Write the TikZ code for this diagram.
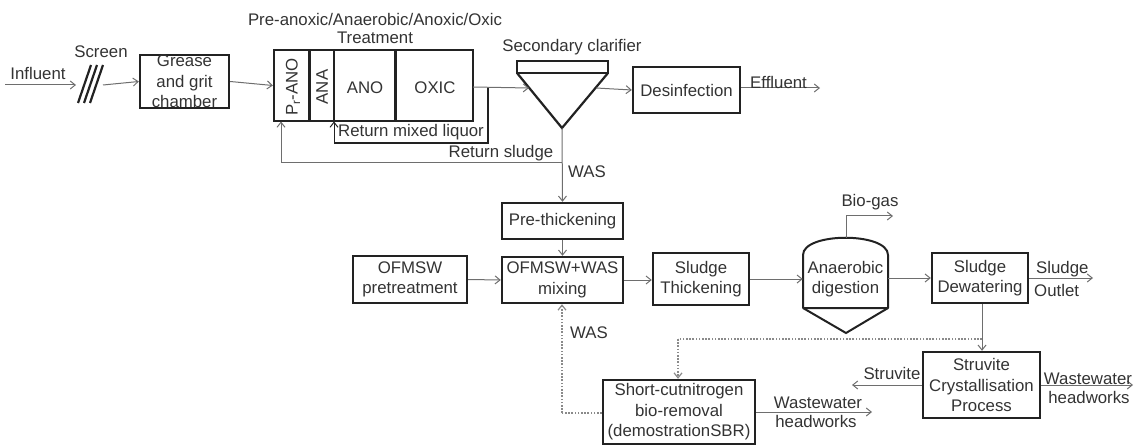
\documentclass[tikz,border=0pt]{standalone}
\usepackage{fontspec}
\setmainfont{Liberation Sans}
\usetikzlibrary{arrows.meta}
\definecolor{inkc}{HTML}{222222}
\definecolor{linec}{HTML}{6E6E6E}
\definecolor{dotc}{HTML}{8A8A8A}
\definecolor{textc}{HTML}{333333}
\begin{document}
\begin{tikzpicture}[x=1pt,y=-1pt,
  font=\fontsize{16.8}{20.5}\selectfont,
  every node/.style={text=textc},
  unit/.style={draw=inkc,line width=2.4pt,inner sep=0pt,align=center},
  lbl/.style={inner sep=0pt,align=center},
  flow/.style={draw=linec,line width=1pt,-{Straight Barb[length=5pt,width=8pt]}},
  plain/.style={draw=linec,line width=1pt},
  dotflow/.style={draw=dotc,line width=1.2pt,dash pattern=on 1.6pt off 1.6pt,-{Straight Barb[length=5pt,width=8pt]}},
  dotline/.style={draw=dotc,line width=1.2pt,dash pattern=on 1.6pt off 1.6pt},
  heavy/.style={draw=inkc,line width=1.6pt}]
\useasboundingbox (0,0) rectangle (1134,446);

% ---------- headworks ----------
\coordinate (inlet) at (5,85);
\coordinate (scrin) at (76,85);
\coordinate (scrout) at (103,85);
\node[lbl] (influent) at (38,73) {Influent};
\node[lbl] (screenlbl) at (101,52) {Screen};
\foreach \d in {0,6,12}
  \draw[draw=inkc,line width=2.2pt] (78+\d,103) -- (91+\d,65);
\node[unit,minimum width=89pt,minimum height=53pt] (grease) at (184.5,81.5) {Grease\\and grit\\chamber};
\draw[flow] (inlet) -- (scrin);
\draw[flow] (scrout) -- (grease.west);

% ---------- biological treatment ----------
\node[lbl] (treattitle) at (375,19) {Pre-anoxic/Anaerobic/Anoxic/Oxic};
\node[lbl] (treatsub) at (375,38) {Treatment};
\node[draw=inkc,line width=2.2pt,minimum width=199pt,minimum height=71pt,inner sep=0pt] (treat) at (373.5,85.5) {};
\draw[draw=inkc,line width=3pt] (309,50) -- (309,121);
\draw[draw=inkc,line width=1.4pt] (334,50) -- (334,121);
\draw[draw=inkc,line width=3pt] (395,50) -- (395,121);
\node[lbl,rotate=90] (pano) at (293,87) {P\textsubscript{r}-ANO};
\node[lbl,rotate=90] (ana) at (322,87) {ANA};
\node[lbl] (ano) at (365,88) {ANO};
\node[lbl] (oxic) at (435,88) {OXIC};
\draw[flow] (grease.east) -- (treat.west);

% internal recycle
\coordinate (treatout) at (473,87);
\coordinate (mlr1) at (488,87);
\coordinate (mlr2) at (488,143);
\coordinate (mlr3) at (334,143);
\coordinate (mlrin) at (334,121.5);
\draw[heavy] (mlr1) -- (mlr2) -- (mlr3);
\draw[draw=inkc,line width=1pt,-{Straight Barb[length=5pt,width=8pt]}] (mlr3) -- (mlrin);
\node[lbl] (mlrlbl) at (411,132) {Return mixed liquor};

% ---------- secondary clarifier ----------
\node[lbl] (clarlbl) at (572,47) {Secondary clarifier};
\node[draw=inkc,line width=2.2pt,minimum width=91pt,minimum height=12pt,inner sep=0pt] (clartop) at (562.5,67) {};
\coordinate (apex) at (562,128);
\draw[draw=inkc,line width=2.2pt,line join=miter] (517,73) -- (apex) -- (608,73);
\coordinate (clarin) at (529,88);
\coordinate (clarout) at (596,88);
\draw[flow] (treatout) -- (clarin);

\node[unit,minimum width=107pt,minimum height=46pt] (desinf) at (686.5,90) {Desinfection};
\draw[flow] (clarout) -- (desinf.west);
\coordinate (effout) at (820,88);
\draw[flow] (desinf.east |- effout) -- (effout);
\node[lbl,anchor=west] (efflbl) at (750,82) {Effluent};

% return sludge
\coordinate (rsplit) at (562,163);
\coordinate (rs1) at (281,163);
\coordinate (rsin) at (281,121.5);
\draw[plain] (rsplit) -- (rs1);
\draw[flow] (rs1) -- (rsin);
\node[lbl] (rslbl) at (501,153) {Return sludge};
\node[lbl] (waslbl) at (587,172) {WAS};

% ---------- sludge line ----------
\node[unit,minimum width=121pt,minimum height=36pt] (prethick) at (562.5,221) {Pre-thickening};
\draw[flow] (apex) -- (prethick.north);
\node[unit,minimum width=121pt,minimum height=46pt] (mixing) at (562.5,280) {OFMSW+WAS\\mixing};
\draw[flow] (prethick.south) -- (mixing.north);
\node[unit,minimum width=114pt,minimum height=47pt] (ofmsw) at (410,279.5) {OFMSW\\pretreatment};
\draw[flow] (ofmsw.east) -- (mixing.west);
\node[unit,minimum width=96pt,minimum height=52pt] (thick) at (701,279) {Sludge\\Thickening};
\draw[flow] (mixing.east) -- (thick.west |- mixing.east);

% anaerobic digester
\node[lbl,minimum width=85pt,minimum height=56pt] (digest) at (845.5,279) {Anaerobic\\digestion};
\draw[draw=inkc,line width=2pt,line join=round]
  (803,308) -- (803,255) .. controls (803,232) and (888,232) .. (888,255) -- (888,308) -- cycle;
\coordinate (digbot) at (846,333);
\draw[draw=inkc,line width=2pt,line join=miter] (803,308) -- (digbot) -- (888,308);
\draw[flow] (thick.east) -- (digest.west |- thick.east);
\coordinate (gastop) at (846,238);
\coordinate (gasbend) at (846,216);
\coordinate (gasout) at (893,216);
\draw[plain] (gastop) -- (gasbend);
\draw[flow] (gasbend) -- (gasout);
\node[lbl] (gaslbl) at (870,202) {Bio-gas};

\node[unit,minimum width=96pt,minimum height=50pt] (dewater) at (980,278) {Sludge\\Dewatering};
\draw[flow] (digest.east |- dewater.west) -- (dewater.west);
\coordinate (sludgeout) at (1093,278);
\draw[flow] (dewater.east) -- (sludgeout);
\node[lbl,anchor=west] (outlbl1) at (1036,269) {Sludge};
\node[lbl,anchor=west] (outlbl2) at (1034,290) {Outlet};

% ---------- reject water treatment ----------
\node[unit,minimum width=117pt,minimum height=66pt] (struvite) at (981.5,385) {Struvite\\Crystallisation\\Process};
\coordinate (rejsplit) at (982,339);
\draw[flow] (dewater.south -| rejsplit) -- (struvite.north -| rejsplit);
\coordinate (strout) at (852,385);
\draw[flow] (struvite.west) -- (strout);
\node[lbl] (strlbl) at (892,373) {Struvite};
\coordinate (wwout1) at (1133,385);
\draw[flow] (struvite.east) -- (wwout1);
\node[lbl] (ww1a) at (1088,379) {Wastewater};
\node[lbl] (ww1b) at (1089,397) {headworks};

\node[unit,minimum width=152pt,minimum height=64pt] (sbr) at (679,412) {Short-cutnitrogen\\bio-removal\\(demostrationSBR)};
\coordinate (dot1) at (678,339);
\draw[dotline] (rejsplit) -- (dot1);
\draw[dotflow] (dot1) -- (sbr.north -| dot1);
\coordinate (dot2) at (562,413);
\draw[dotline] (sbr.west |- dot2) -- (dot2);
\draw[dotflow] (dot2) -- (mixing.south -| dot2);
\node[lbl] (waslbl2) at (589,333) {WAS};
\coordinate (wwout2) at (872,412);
\draw[flow] (sbr.east |- wwout2) -- (wwout2);
\node[lbl] (ww2a) at (818,403) {Wastewater};
\node[lbl] (ww2b) at (816,421) {headworks};
\end{tikzpicture}
\end{document}
